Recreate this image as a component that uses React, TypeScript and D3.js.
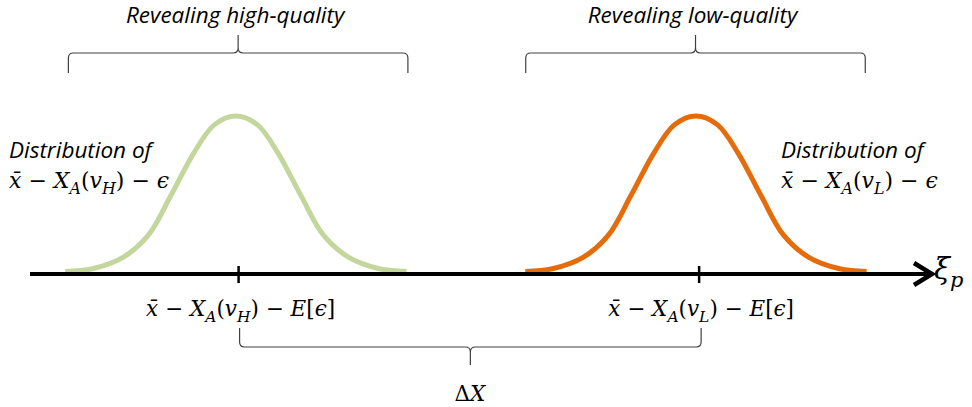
import React from 'react';
import * as d3 from 'd3';

const W = 972;
const H = 407;

// positions on the xi_p axis, arbitrary units
const axisDomain = [0, 100];
const tickValues = [23.1, 74.1];
const curveCenters = [22.8, 73.75];
const braceCenters = [23.05, 73.7];
const braceHalfWidth = 18.8;
const curveColors = ['#c3d69b', '#e46c0a'];

// bell shape: offset from centre and relative height
const shapeOffsets = [-18.9, -15.9, -12.5, -9.7, -7.2, -4.65, -2.4, 0, 2.4, 4.65, 7.2, 9.7, 12.5, 15.9, 18.9];
const shapeDensity = [0.003, 0.021, 0.094, 0.236, 0.49, 0.764, 0.943, 1, 0.943, 0.764, 0.49, 0.236, 0.094, 0.021, 0.003];

const braceTitles = ['Revealing high-quality', 'Revealing low-quality'];
const distTitle = 'Distribution of';

type Seg = { t: string; it?: boolean; sub?: boolean };

const distLabels: Seg[][] = [
  [{ t: 'x̄', it: true }, { t: ' − ' }, { t: 'X', it: true }, { t: 'A', it: true, sub: true }, { t: '(' },
   { t: 'v', it: true }, { t: 'H', it: true, sub: true }, { t: ')' }, { t: ' − ' }, { t: 'ϵ', it: true }],
  [{ t: 'x̄', it: true }, { t: ' − ' }, { t: 'X', it: true }, { t: 'A', it: true, sub: true }, { t: '(' },
   { t: 'v', it: true }, { t: 'L', it: true, sub: true }, { t: ')' }, { t: ' − ' }, { t: 'ϵ', it: true }],
];

const tickLabels: Seg[][] = [
  [{ t: 'x̄', it: true }, { t: ' − ' }, { t: 'X', it: true }, { t: 'A', it: true, sub: true }, { t: '(' },
   { t: 'v', it: true }, { t: 'H', it: true, sub: true }, { t: ')' }, { t: ' − ' }, { t: 'E', it: true },
   { t: '[' }, { t: 'ϵ', it: true }, { t: ']' }],
  [{ t: 'x̄', it: true }, { t: ' − ' }, { t: 'X', it: true }, { t: 'A', it: true, sub: true }, { t: '(' },
   { t: 'v', it: true }, { t: 'L', it: true, sub: true }, { t: ')' }, { t: ' − ' }, { t: 'E', it: true },
   { t: '[' }, { t: 'ϵ', it: true }, { t: ']' }],
];

const gapLabel: Seg[] = [{ t: 'Δ' }, { t: 'X', it: true }];
const axisLabel: Seg[] = [{ t: 'ξ', it: true }, { t: 'p', it: true, sub: true }];

const MATH_FONT = '"DejaVu Serif", "Liberation Serif", serif';
const TEXT_FONT = '"Open Sans", Lato, sans-serif';

function MathText({ x, y, segs, size, anchor = 'start' }: { x: number; y: number; segs: Seg[]; size: number; anchor?: string }) {
  let shifted = false;
  const spans = segs.map((s, i) => {
    let dy: number | undefined;
    if (s.sub && !shifted) { dy = size * 0.27; shifted = true; }
    else if (!s.sub && shifted) { dy = -size * 0.27; shifted = false; }
    return (
      <tspan key={i} dy={dy} fontStyle={s.it ? 'italic' : 'normal'} fontSize={s.sub ? size * 0.72 : size}>
        {s.t}
      </tspan>
    );
  });
  return (
    <text x={x} y={y} textAnchor={anchor} fontFamily={MATH_FONT} fill="#000" xmlSpace="preserve">
      {spans}
    </text>
  );
}

// curly brace; ends at yEnd, long stroke at yLine, tip at yTip
function bracePath(x0: number, x1: number, yEnd: number, yLine: number, yTip: number, r = 5) {
  const c = (x0 + x1) / 2;
  const d = Math.sign(yTip - yEnd);
  const p = d3.path();
  p.moveTo(x0, yEnd);
  p.lineTo(x0, yLine - d * r);
  p.quadraticCurveTo(x0, yLine, x0 + r, yLine);
  p.lineTo(c - r, yLine);
  p.quadraticCurveTo(c, yLine, c, yLine + d * r);
  p.lineTo(c, yTip);
  p.moveTo(c, yLine + d * r);
  p.quadraticCurveTo(c, yLine, c + r, yLine);
  p.lineTo(x1 - r, yLine);
  p.quadraticCurveTo(x1, yLine, x1, yLine - d * r);
  p.lineTo(x1, yEnd);
  return p.toString();
}

export default function App() {
  const x = d3.scaleLinear().domain(axisDomain).range([30, 933]);
  const y = d3.scaleLinear().domain([0, 1]).range([272, 116]);
  const axisY = 274;

  const curvePath = (center: number) =>
    d3
      .line<number>()
      .x((_, i) => x(center + shapeOffsets[i]))
      .y((d) => y(d))
      .curve(d3.curveCatmullRom.alpha(0.5))(shapeDensity) as string;

  const tipX = x(axisDomain[1]);

  return (
    <svg width={W} height={H} style={{ position: 'absolute', left: 0, top: 0, background: '#fff' }}>
      {/* top braces and titles */}
      {braceCenters.map((c, i) => (
        <g key={'b' + i}>
          <path
            d={bracePath(x(c - braceHalfWidth), x(c + braceHalfWidth), 73, 53, 35)}
            fill="none"
            stroke="#404040"
            strokeWidth={1.2}
          />
          <text x={x(c) - 3} y={23} textAnchor="middle" fontFamily={TEXT_FONT} fontStyle="italic" fontSize={22.5} fill="#000">
            {braceTitles[i]}
          </text>
        </g>
      ))}

      {/* distributions */}
      {curveCenters.map((c, i) => (
        <path key={'c' + i} d={curvePath(c)} fill="none" stroke={curveColors[i]} strokeWidth={5} />
      ))}

      {/* distribution labels */}
      <text x={9} y={158} fontFamily={TEXT_FONT} fontStyle="italic" fontSize={22.5}>{distTitle}</text>
      <MathText x={9} y={188} segs={distLabels[0]} size={22} />
      <text x={781} y={158} fontFamily={TEXT_FONT} fontStyle="italic" fontSize={22.5}>{distTitle}</text>
      <MathText x={781} y={188} segs={distLabels[1]} size={22} />

      {/* axis */}
      <line x1={x(axisDomain[0])} x2={tipX - 3} y1={axisY} y2={axisY} stroke="#000" strokeWidth={4} />
      <path
        d={`M${tipX - 19},${axisY - 11} L${tipX - 1},${axisY} L${tipX - 19},${axisY + 11}`}
        fill="none"
        stroke="#000"
        strokeWidth={4.5}
        strokeLinejoin="miter"
      />
      <MathText x={tipX + 1} y={279} segs={axisLabel} size={29} />

      {tickValues.map((t, i) => (
        <g key={'t' + i}>
          <line x1={x(t)} x2={x(t)} y1={266} y2={283} stroke="#000" strokeWidth={2.5} />
          <MathText x={x(t) + 2} y={316} segs={tickLabels[i]} size={21.5} anchor="middle" />
        </g>
      ))}

      {/* bottom brace */}
      <path
        d={bracePath(x(tickValues[0]) + 1, x(tickValues[1]) + 2, 328, 347, 365)}
        fill="none"
        stroke="#404040"
        strokeWidth={1.2}
      />
      <MathText x={(x(tickValues[0]) + x(tickValues[1])) / 2 + 1} y={401} segs={gapLabel} size={21.5} anchor="middle" />
    </svg>
  );
}
